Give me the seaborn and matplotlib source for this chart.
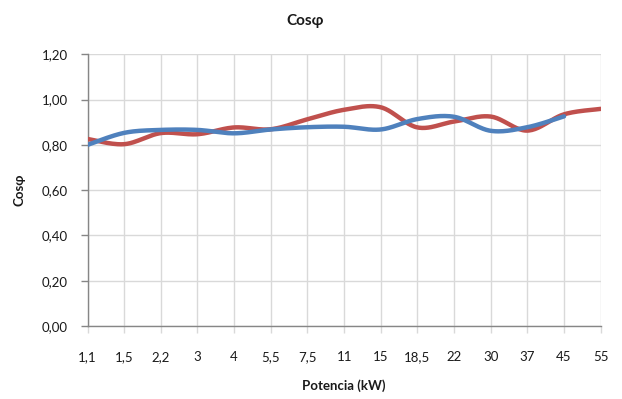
import numpy as np
import pandas as pd
import seaborn as sns
import matplotlib
matplotlib.use("Agg")
import matplotlib.pyplot as plt
from matplotlib.ticker import FuncFormatter, FixedLocator

# Motor rated power classes (kW) and their power factor
potencia = ["1,1", "1,5", "2,2", "3", "4", "5,5", "7,5", "11", "15",
            "18,5", "22", "30", "37", "45", "55"]
cos_serie_a = [0.80, 0.853, 0.866, 0.866, 0.851, 0.868, 0.878, 0.880, 0.868,
               0.914, 0.924, 0.862, 0.878, 0.926]
cos_serie_b = [0.826, 0.803, 0.852, 0.847, 0.877, 0.869, 0.913, 0.955, 0.966,
               0.877, 0.903, 0.925, 0.863, 0.935, 0.959]

y_ticks = [0.0, 0.2, 0.4, 0.6, 0.8, 1.0, 1.2]

BLUE = "#4F81BD"
RED = "#C0504D"
GRID = "#D9D9D9"
AXIS = "#868686"
TEXT = "#1A1A1A"


def smooth(values, steps=24):
    """Bezier smoothing through each point (spreadsheet-style smoothed line)."""
    y = np.asarray(values, dtype=float)
    x = np.arange(len(y), dtype=float)
    pts = np.column_stack([x, y])
    n = len(pts)
    out = []
    t = np.linspace(0, 1, steps, endpoint=False)[:, None]
    for i in range(n - 1):
        p0, p3 = pts[i], pts[i + 1]
        prev = pts[i - 1] if i > 0 else pts[i]
        nxt = pts[i + 2] if i + 2 < n else pts[i + 1]
        p1 = p0 + (p3 - prev) / 6.0
        p2 = p3 - (nxt - p0) / 6.0
        seg = ((1 - t) ** 3) * p0 + 3 * ((1 - t) ** 2) * t * p1 \
            + 3 * (1 - t) * t ** 2 * p2 + t ** 3 * p3
        out.append(seg)
    out.append(pts[-1][None, :])
    curve = np.vstack(out)
    return pd.DataFrame({"x": curve[:, 0], "y": curve[:, 1]})


sns.set_theme(style="white")
plt.rcParams["font.family"] = ["Lato", "DejaVu Sans"]

fig = plt.figure(figsize=(6.22, 3.99), dpi=100)
ax = fig.add_axes([0.1407, 0.183, 0.8251, 0.6809])

curve_a = smooth(cos_serie_a)
curve_b = smooth(cos_serie_b)
sns.lineplot(data=curve_b, x="x", y="y", sort=False, color=RED,
             linewidth=3.2, ax=ax, zorder=3)
sns.lineplot(data=curve_a, x="x", y="y", sort=False, color=BLUE,
             linewidth=3.2, ax=ax, zorder=4)

ax.set_xlim(0, len(potencia) - 1)
ax.set_ylim(0, 1.2)

ax.xaxis.set_major_locator(FixedLocator(range(len(potencia))))
ax.set_xticklabels(potencia)
ax.set_yticks(y_ticks)
ax.yaxis.set_major_formatter(FuncFormatter(lambda v, _: f"{v:.2f}".replace(".", ",")))

ax.grid(True, color=GRID, linewidth=1.0)
ax.set_axisbelow(True)

for side in ("top", "right"):
    ax.spines[side].set_visible(False)
for side in ("left", "bottom"):
    ax.spines[side].set_color(AXIS)
    ax.spines[side].set_linewidth(1.0)

ax.tick_params(axis="y", which="major", length=5, width=1, color=AXIS,
               direction="out", pad=9, labelsize=9.5, labelcolor=TEXT, left=True)
ax.tick_params(axis="x", which="major", length=5, width=1, color=GRID,
               direction="out", pad=13, labelsize=9.5, labelcolor=TEXT, bottom=True)

ax.set_xlabel("Potencia (kW)", fontsize=9.5, fontweight="bold", color=TEXT, labelpad=12)
ax.set_ylabel("Cosφ", fontsize=9.5, fontweight="bold", color=TEXT, labelpad=12)
fig.suptitle("Cosφ", x=0.49, y=0.965, fontsize=11, fontweight="bold", color=TEXT)

fig.savefig("out.png", dpi=100)
